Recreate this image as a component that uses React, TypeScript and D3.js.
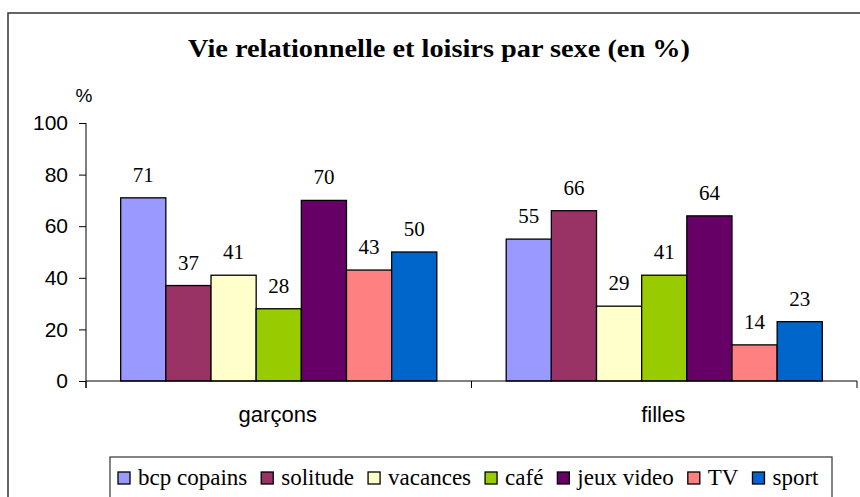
import React, { useEffect, useRef } from "react";
import * as d3 from "d3";

const categories = ["garçons", "filles"];
const series = ["bcp copains", "solitude", "vacances", "café", "jeux video", "TV", "sport"];
const garconsValues = [71, 37, 41, 28, 70, 43, 50];
const fillesValues = [55, 66, 29, 41, 64, 14, 23];
const colors = ["#9999FF", "#993366", "#FFFFCC", "#99CC00", "#660066", "#FF8080", "#0066CC"];
const yTicks = [0, 20, 40, 60, 80, 100];
const title = "Vie relationnelle et loisirs par sexe (en %)";

export default function App() {
  const ref = useRef<SVGSVGElement>(null);

  useEffect(() => {
    const svg = d3.select(ref.current);
    svg.selectAll("*").remove();

    const left = 86, right = 857, top = 123, bottom = 381;
    const x0 = d3.scaleBand<string>().domain(categories).range([left, right]).padding(0);
    const gap = x0.bandwidth() * 0.09;
    const x1 = d3.scaleBand<string>().domain(series).range([gap, x0.bandwidth() - gap]).padding(0);
    const y = d3.scaleLinear().domain([0, 100]).range([bottom, top]);

    // frame
    svg.append("rect").attr("x", 8).attr("y", 13).attr("width", 860).attr("height", 500)
      .attr("fill", "white").attr("stroke", "#333").attr("stroke-width", 1.5);

    // title
    svg.append("text").attr("x", 439).attr("y", 57).attr("text-anchor", "middle")
      .attr("font-family", "'Liberation Serif', 'Times New Roman', serif")
      .attr("font-weight", "bold").attr("font-size", 26)
      .attr("textLength", 502).attr("lengthAdjust", "spacingAndGlyphs")
      .text(title);

    // % label
    svg.append("text").attr("x", 84).attr("y", 102).attr("text-anchor", "middle")
      .attr("font-family", "'Liberation Sans', Arial, sans-serif").attr("font-size", 19)
      .text("%");

    const data = [garconsValues, fillesValues];

    // bars
    categories.forEach((c, ci) => {
      const g = svg.append("g").attr("transform", `translate(${x0(c)},0)`);
      series.forEach((s, si) => {
        const v = data[ci][si];
        g.append("rect")
          .attr("x", x1(s)!).attr("y", y(v))
          .attr("width", x1.bandwidth()).attr("height", y(0) - y(v))
          .attr("fill", colors[si]).attr("stroke", "#000").attr("stroke-width", 1.3);
        g.append("text")
          .attr("x", x1(s)! + x1.bandwidth() / 2).attr("y", y(v) - 16)
          .attr("text-anchor", "middle")
          .attr("font-family", "'Liberation Serif', 'Times New Roman', serif")
          .attr("font-size", 21)
          .text(String(v));
      });
    });

    // y axis
    const yAxis = d3.axisLeft(y).tickValues(yTicks).tickSize(7).tickPadding(11).tickFormat(d3.format("d"));
    const ya = svg.append("g").attr("transform", `translate(${left},0)`).call(yAxis as any);
    ya.select(".domain").remove();
    ya.selectAll("line").attr("stroke", "#000");
    ya.selectAll("text").attr("font-family", "'Liberation Sans', Arial, sans-serif").attr("font-size", 21).attr("fill", "#000");
    svg.append("line").attr("x1", left).attr("x2", left).attr("y1", top).attr("y2", bottom + 7).attr("stroke", "#000");

    // x axis
    svg.append("line").attr("x1", left).attr("x2", right).attr("y1", bottom).attr("y2", bottom).attr("stroke", "#000");
    const bounds = [...categories.map((c) => x0(c)!), right];
    bounds.forEach((bx) => {
      svg.append("line").attr("x1", bx).attr("x2", bx).attr("y1", bottom).attr("y2", bottom + 7).attr("stroke", "#000");
    });
    categories.forEach((c) => {
      svg.append("text").attr("x", x0(c)! + x0.bandwidth() / 2 - 1).attr("y", 422)
        .attr("text-anchor", "middle")
        .attr("font-family", "'Liberation Sans', Arial, sans-serif").attr("font-size", 22)
        .text(c);
    });

    // legend
    const lg = svg.append("g");
    lg.append("rect").attr("x", 110).attr("y", 457).attr("width", 722).attr("height", 60)
      .attr("fill", "white").attr("stroke", "#333").attr("stroke-width", 1.2);
    let cx = 118;
    series.forEach((s, si) => {
      lg.append("rect").attr("x", cx).attr("y", 472).attr("width", 12).attr("height", 12)
        .attr("fill", colors[si]).attr("stroke", "#000").attr("stroke-width", 1.3);
      const t = lg.append("text").attr("x", cx + 20).attr("y", 485)
        .attr("font-family", "'Liberation Serif', 'Times New Roman', serif").attr("font-size", 23)
        .text(s);
      const w = (t.node() as SVGTextElement).getComputedTextLength();
      cx = cx + 20 + w + 14;
    });
  }, []);

  return (
    <svg ref={ref} width={860} height={497}
      style={{ position: "absolute", left: 0, top: 0, background: "white" }} />
  );
}
